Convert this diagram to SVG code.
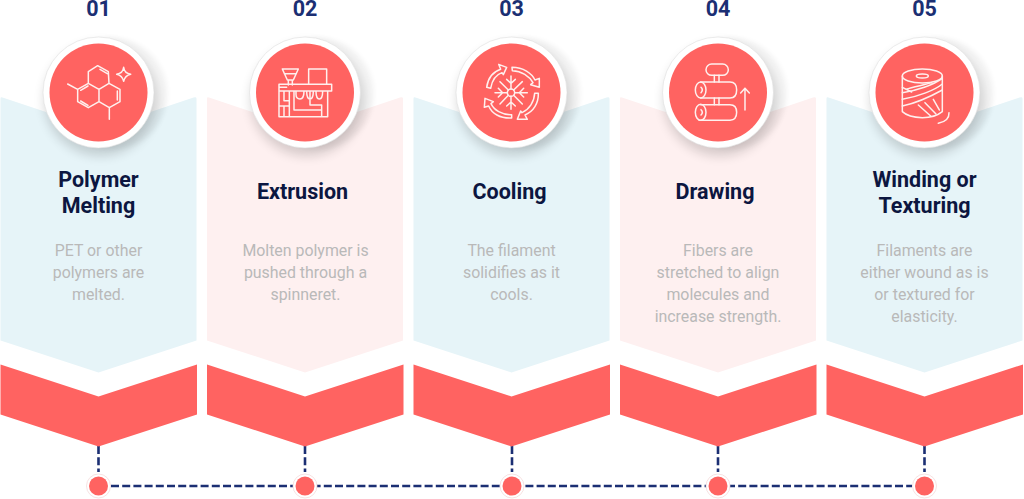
<svg xmlns="http://www.w3.org/2000/svg" width="1024" height="499" viewBox="0 0 1024 499">
<style>
text{font-family:Roboto,"Liberation Sans",sans-serif;text-anchor:middle}
.n{font-size:21.5px;font-weight:700;fill:#1b2f73}
.t{font-size:21.5px;font-weight:700;fill:#0c1640}
.d{font-size:15.9px;fill:#b9b9b9}
.blue{fill:#e6f4f8}.pink{fill:#fef0f0}.red{fill:#ff6361}
.i{fill:none;stroke:#fff0ee;stroke-width:4.5;stroke-linejoin:round;stroke-linecap:round}
.dash{fill:none;stroke:#1b2f73;stroke-width:2.6;stroke-dasharray:8 3.2}
.ring{fill:#fff;stroke:#f2d6d6;stroke-width:.7}
</style>
<defs>
<filter id="b" x="-40%" y="-40%" width="180%" height="180%"><feGaussianBlur stdDeviation="6"/></filter>
<filter id="c" x="-40%" y="-40%" width="180%" height="180%"><feGaussianBlur stdDeviation="2.500"/></filter>
<g id="panel"><path d="M-98 6Q-98 4-96 5L0 37 95 5Q98 4 98 6V248L0 280-98 248Z"/></g>
<path id="chev" d="M-98 272L0 304 98.500 272V322L0 354-98 322Z"/>
<g id="disc">
<circle cx="13" cy="1" r="56" fill="#000" opacity=".045" filter="url(#c)"/>
<circle cx="2" cy="7" r="56" fill="#000" opacity=".16" filter="url(#b)"/>
<circle r="55.500" fill="#fff" stroke="#ddd" stroke-width=".6"/>
<circle r="49" fill="#ff6361"/>
</g>
<g id="dot"><circle r="12" class="ring"/><circle r="9.500" class="red"/></g>
</defs>

<g id="connectors">
<path class="dash" d="M98.500 446V472M305 446V472M512 446V472M718 446V472M924.500 446V472"/>
<path class="dash" d="M111 486H912"/>
</g>

<g id="step1" transform="translate(98.500 92.500)">
<use href="#panel" class="blue"/><use href="#chev" class="red"/><use href="#disc"/>
<g transform="translate(-98.500 -92.500) scale(.3333)" class="i">
<path d="M265 215L293 197 325 215 327 250 297 268 265 250ZM265 250L233 268V305L265 323 297 305V268M297 268L327 250 360 268V305L328 323 297 305M233 268L203 252M328 323V358M300 208L322 221M352 273V300M242 271L264 258M242 303L264 316"/>
<path d="M371 202Q373 219 392 223 375 227 371 244 367 227 350 223 369 219 371 202Z"/>
</g>
<text class="n" x="0" y="-76.500">01</text>
<text class="t" x="0" y="94">Polymer</text><text class="t" x="0" y="120">Melting</text>
<text class="d" x="0" y="163">PET or other</text><text class="d" x="0" y="185">polymers are</text><text class="d" x="0" y="207">melted.</text>
</g>

<g id="step2" transform="translate(305 92.500)">
<use href="#panel" class="pink"/><use href="#chev" class="red"/><use href="#disc"/>
<g transform="translate(-75 -62.500) scale(.3333)" class="i">
<path d="M157 117H205L190 150H172ZM163 131H199M175 150V165M187 150V165M236 117H290V163H236ZM147 163H305V183H147ZM147 183V260H293V183M147 172H170M162 183V212H178V260M147 228H178M162 228V260M178 212V183M192 183V240H275V260M240 183V225H275V240M198 183V193Q198 207 210 207 222 207 222 183M230 183Q230 207 240 207 250 207 250 183M258 183Q258 207 268 207 278 207 278 183"/>
</g>
<text class="n" x="0" y="-76.500">02</text>
<text class="t" x="-2.500" y="106">Extrusion</text>
<text class="d" x="0.500" y="163">Molten polymer is</text><text class="d" x="0.500" y="185">pushed through a</text><text class="d" x="0.500" y="207">spinneret.</text>
</g>

<g id="step3" transform="translate(511.500 92.500)">
<use href="#panel" class="blue"/><use href="#chev" class="red"/><use href="#disc"/>
<g transform="translate(-71.500 -62.500) scale(.3333)" class="i">
<circle cx="213" cy="188" r="11"/>
<path d="M213 177V138M213 199V238M202 188H165M224 188H262M205 180L180 155M221 180L247 155M205 196L180 222M221 196L247 222M200 148L213 160 226 148M200 228L213 216 226 228M175 175L188 188 175 201M251 175L238 188 251 201"/>
<path d="M140 172C144 145 160 125 182 118L176 103 200 112 190 134 186 128C168 134 156 152 152 175Z"/>
<path d="M216 112C250 112 275 130 285 150L298 145 298 172 272 164 279 158C268 138 245 123 217 122Z"/>
<path d="M295 190C296 220 280 245 255 255L262 268 232 268 242 243 246 248C268 238 283 215 284 190Z"/>
<path d="M215 264C180 266 155 250 146 228L133 232 135 205 160 215 153 221C162 240 185 255 215 254Z"/>
</g>
<text class="n" x="0" y="-76.500">03</text>
<text class="t" x="-2" y="106">Cooling</text>
<text class="d" x="0" y="163">The filament</text><text class="d" x="0" y="185">solidifies as it</text><text class="d" x="0" y="207">cools.</text>
</g>

<g id="step4" transform="translate(718 92.500)">
<use href="#panel" class="pink"/><use href="#chev" class="red"/><use href="#disc"/>
<g transform="translate(-73 -62.500) scale(.3333)" class="i">
<rect x="183" y="102" width="67" height="34" rx="17"/>
<path d="M208 136V156M222 136V156M208 204V224M222 204V224"/>
<ellipse cx="167" cy="180" rx="16" ry="24"/><ellipse cx="167" cy="247" rx="16" ry="24"/>
<path d="M167 156H255Q275 156 275 180T255 204H167M167 224H255Q275 224 275 247T255 271H167"/>
<path d="M168 172Q176 180 168 188M168 239Q176 247 168 255"/>
<path d="M300 240V175M287 189L300 175 313 189"/>
</g>
<text class="n" x="0" y="-76.500">04</text>
<text class="t" x="-3" y="106">Drawing</text>
<text class="d" x="0" y="163">Fibers are</text><text class="d" x="0" y="185">stretched to align</text><text class="d" x="0" y="207">molecules and</text><text class="d" x="0" y="229">increase strength.</text>
</g>

<g id="step5" transform="translate(924.500 92.500)">
<use href="#panel" class="blue"/><use href="#chev" class="red"/><use href="#disc"/>
<g transform="translate(-74.500 -62.500) scale(.3333)" class="i">
<ellipse cx="217" cy="138" rx="60" ry="21"/><ellipse cx="217" cy="138" rx="18" ry="6"/>
<path d="M157 138V245Q175 262 217 263 255 263 277 245V138"/>
<path d="M157 172L185 186M157 188C200 182 250 165 277 145M157 208C205 200 255 180 277 162M157 228C205 218 250 195 277 180M205 225L242 258M225 218L258 252M250 208L268 240M168 178C190 170 225 165 245 158M265 280C285 276 298 265 297 248"/>
</g>
<text class="n" x="0" y="-76.500">05</text>
<text class="t" x="0" y="94">Winding or</text><text class="t" x="0" y="120">Texturing</text>
<text class="d" x="0" y="163">Filaments are</text><text class="d" x="0" y="185">either wound as is</text><text class="d" x="0" y="207">or textured for</text><text class="d" x="0" y="229">elasticity.</text>
</g>

<g id="dots">
<use href="#dot" x="98.500" y="486"/><use href="#dot" x="305" y="486"/><use href="#dot" x="512" y="486"/><use href="#dot" x="718" y="486"/><use href="#dot" x="924.500" y="486"/>
</g>
</svg>
